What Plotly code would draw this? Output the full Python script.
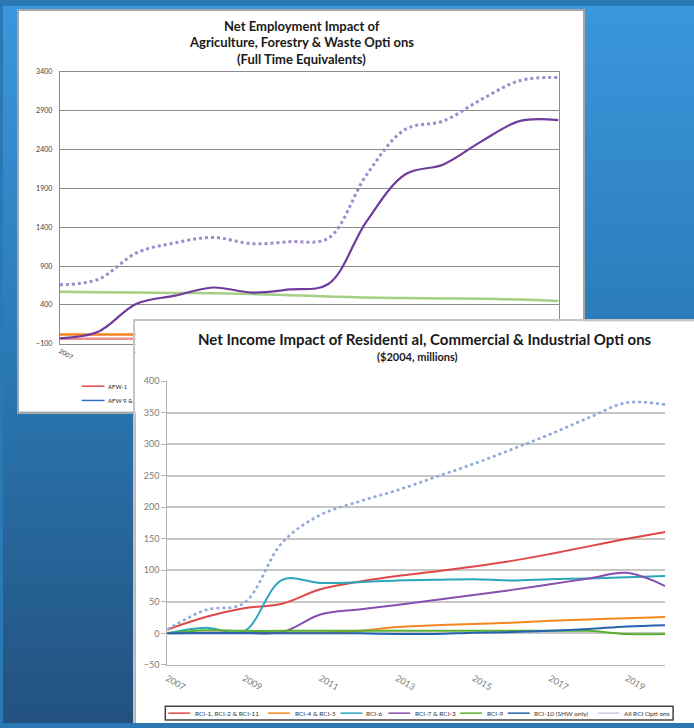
import plotly.graph_objects as go

W, H = 694, 728

# ---------------- data ----------------
years = [2007, 2008, 2009, 2010, 2011, 2012, 2013, 2014, 2015, 2016, 2017, 2018, 2019, 2020]
label_years = [2007, 2009, 2011, 2013, 2015, 2017, 2019]

# Back chart: Net Employment Impact (Full Time Equivalents)
afw_all = [660, 730, 1070, 1200, 1270, 1190, 1215, 1260, 2080, 2660, 2770, 3050, 3290, 3330]
afw_purple = [-30, 55, 415, 520, 625, 560, 600, 670, 1480, 2080, 2210, 2510, 2770, 2780]
afw_green = [570, 565, 560, 555, 550, 540, 525, 510, 495, 490, 485, 480, 470, 450]
afw_orange = [20, 20, 20, 20, 20, 20, 20, 20, 20, 20, 20, 20, 20, 20]
afw_1 = [-35, -35, -35, -35, -35, -35, -35, -35, -35, -35, -35, -35, -35, -35]
emp_ticks = [-100, 400, 900, 1400, 1900, 2400, 2900, 3400]

# Front chart: Net Income Impact ($2004, millions)
rci_1_2_11 = [6, 26, 40, 47, 70, 82, 91, 98, 106, 115, 126, 138, 150, 161]
rci_4_5 = [1, 1, 1, 1, 1, 4, 10, 13, 15, 17, 20, 22, 24, 26]
rci_6 = [0, 9, 3, 85, 80, 81, 84, 85, 86, 84, 86, 87, 89, 91]
rci_7_3 = [0, 1, 1, 2, 30, 38, 45, 53, 61, 69, 78, 87, 96, 75]
rci_9 = [0, 5, 4, 4, 4, 4, 4, 4, 4, 4, 4, 4, -1, -1]
rci_10 = [0, 0, 0, 0, 0, 0, -1, -1, 1, 2, 4, 7, 11, 13]
rci_all = [6, 37, 48, 144, 188, 209, 227, 248, 269, 292, 316, 342, 366, 363]

front_names = ["RCI-1, RCI-2 & RCI-11", "RCI-4 & RCI-5", "RCI-6", "RCI-7 & RCI-3",
               "RCI-9", "RCI-10 (SHW only)", "All RCI Opti ons"]
front_colors = ["#e04848", "#f5861f", "#2aa7bd", "#8650b0", "#58b030", "#2563b0", "#90a9d9"]
front_series = [rci_1_2_11, rci_4_5, rci_6, rci_7_3, rci_9, rci_10, rci_all]

FONT = "Lato"


def fx(px):
    return px / W


def fy(py):
    return 1 - py / H


fig = go.Figure()

# background gradient (subplot 1, full page)
fig.add_trace(go.Heatmap(x=[0, 1], y=[0, 0.5, 1], z=[[0, 0], [0.5, 0.5], [1, 1]],
                         colorscale=[[0, "#23517e"], [0.5, "#2a78b4"], [1, "#3a97dd"]],
                         zsmooth="best", showscale=False, hoverinfo="skip",
                         xaxis="x", yaxis="y"))

# back panel (subplot 2)
fig.add_trace(go.Scatter(x=[None], y=[None], xaxis="x2", yaxis="y2", showlegend=False,
                         hoverinfo="skip"))

# back chart (subplot 3)
fig.add_trace(go.Scatter(x=years, y=afw_green, mode="lines", name="AFW green",
                         line=dict(color="#a5cf85", width=2.5, shape="spline"),
                         xaxis="x3", yaxis="y3", showlegend=False))
fig.add_trace(go.Scatter(x=years, y=afw_orange, mode="lines", name="AFW orange",
                         line=dict(color="#f5821f", width=2.5, shape="spline"),
                         xaxis="x3", yaxis="y3", showlegend=False))
fig.add_trace(go.Scatter(x=years, y=afw_1, mode="lines", name="AFW-1",
                         line=dict(color="#e8918d", width=2.5, shape="spline"),
                         xaxis="x3", yaxis="y3", showlegend=False))
fig.add_trace(go.Scatter(x=years, y=afw_purple, mode="lines", name="AFW purple",
                         line=dict(color="#6f3c9c", width=2.2, shape="spline"),
                         xaxis="x3", yaxis="y3", showlegend=False))
fig.add_trace(go.Scatter(x=years, y=afw_all, mode="lines", name="All AFW",
                         line=dict(color="#a08acb", width=3, dash="dot", shape="spline"),
                         xaxis="x3", yaxis="y3", showlegend=False))

# front panel (subplot 4)
fig.add_trace(go.Scatter(x=[None], y=[None], xaxis="x4", yaxis="y4", showlegend=False,
                         hoverinfo="skip"))

# front chart (subplot 5)
for name, col, ser in zip(front_names, front_colors, front_series):
    dotted = name.startswith("All")
    fig.add_trace(go.Scatter(x=years, y=ser, mode="lines", name=name,
                             line=dict(color=col, width=2.6 if dotted else 2,
                                       dash="dot" if dotted else "solid",
                                       shape="spline"),
                             xaxis="x5", yaxis="y5", showlegend=False))

blank = dict(showgrid=False, zeroline=False, showticklabels=False, ticks="", fixedrange=True)

layout = dict(
    width=W, height=H, autosize=False,
    margin=dict(l=0, r=0, t=0, b=0),
    paper_bgcolor="#2a78b4", plot_bgcolor="white",
    font=dict(family=FONT),
    xaxis=dict(domain=[0, 1], range=[0, 1], visible=False, anchor="y"),
    yaxis=dict(domain=[0, 1], range=[0, 1], visible=False, anchor="x"),
    xaxis2=dict(domain=[fx(16), fx(583)], anchor="y2", range=[0, 1], showline=True,
                mirror=True, linecolor="#a6a6a6", linewidth=1.5, **blank),
    yaxis2=dict(domain=[fy(412), fy(5)], anchor="x2", range=[0, 1], showline=True,
                mirror=True, linecolor="#a6a6a6", linewidth=1.5, **blank),
    xaxis3=dict(domain=[fx(57), fx(558)], anchor="y3", range=[2007, 2020],
                tickvals=label_years, ticktext=[str(v) for v in label_years],
                tickangle=30, tickfont=dict(size=6.5, color="#404040"),
                showgrid=False, zeroline=False, showline=True, mirror=True,
                linecolor="#8c8c8c", linewidth=1, ticks=""),
    yaxis3=dict(domain=[fy(343), fy(67)], anchor="x3", range=[-100, 3400],
                tickvals=emp_ticks, tickfont=dict(size=7, color="#404040"),
                showgrid=True, gridcolor="#8c8c8c", gridwidth=1, zeroline=False,
                showline=True, mirror=True, linecolor="#8c8c8c", linewidth=1,
                ticks="outside", ticklen=5, tickcolor="#ffffff"),
    xaxis4=dict(domain=[fx(133), 1], anchor="y4", range=[0, 1], side="top", showline=True,
                linecolor="#c4c4c4", linewidth=1.5, **blank),
    yaxis4=dict(domain=[0, fy(320)], anchor="x4", range=[0, 1], showline=True,
                linecolor="#c4c4c4", linewidth=1.5, **blank),
    xaxis5=dict(domain=[fx(165), fx(665)], anchor="y5", range=[2007, 2020],
                tickvals=label_years, ticktext=[str(v) for v in label_years],
                tickangle=30, tickfont=dict(size=9, color="#7a7a7a"),
                showgrid=False, zeroline=False, showline=True,
                linecolor="#b4b4b4", linewidth=1, ticks="outside", ticklen=4,
                tickcolor="#ffffff"),
    yaxis5=dict(domain=[fy(669), fy(381)], anchor="x5", range=[-50, 400], dtick=50,
                tickfont=dict(size=9, color="#7a7a7a"),
                showgrid=True, gridcolor="#c6c6c6", gridwidth=2, zeroline=False,
                showline=True, linecolor="#b4b4b4", linewidth=1,
                ticks="outside", ticklen=5, tickcolor="#b4b4b4"),
)
fig.update_layout(**layout)

ann = []
# back chart titles
for txt, py in [("Net Employment Impact of", 20),
                ("Agriculture, Forestry & Waste Opti ons", 37),
                ("(Full Time Equivalents)", 54)]:
    ann.append(dict(text="<b>%s</b>" % txt, x=fx(300), y=fy(py), xref="paper", yref="paper",
                    showarrow=False, xanchor="center", yanchor="middle",
                    font=dict(size=13, color="#1a1a1a", family=FONT)))
# front chart titles
ann.append(dict(text="<b>Net Income Impact of Residenti al, Commercial & Industrial Opti ons</b>",
                x=fx(424), y=fy(338), xref="paper", yref="paper", showarrow=False,
                xanchor="center", yanchor="middle",
                font=dict(size=15, color="#1a1a1a", family=FONT)))
ann.append(dict(text="<b>($2004, millions)</b>", x=fx(416), y=fy(356), xref="paper",
                yref="paper", showarrow=False, xanchor="center", yanchor="middle",
                font=dict(size=11, color="#1a1a1a", family=FONT)))

shapes = []
# back chart legend (partially visible)
for txt, col, py in [("AFW-1", "#e04848", 386), ("AFW 9 &", "#2f6fc0", 400.5)]:
    shapes.append(dict(type="line", xref="paper", yref="paper", x0=fx(79), x1=fx(102),
                       y0=fy(py), y1=fy(py), line=dict(color=col, width=1.5), layer="above"))
    ann.append(dict(text=txt, x=fx(103), y=fy(py), xref="paper", yref="paper",
                    showarrow=False, xanchor="left", yanchor="middle",
                    font=dict(size=6, color="#222222", family=FONT)))

# front chart legend
shapes.append(dict(type="rect", xref="paper", yref="paper", x0=fx(163), x1=fx(673),
                   y0=fy(725), y1=fy(711), line=dict(color="#444444", width=1.5),
                   fillcolor="white", layer="above"))
leg_line_x = [166, 266, 339, 387, 459, 507, 597]
leg_text_x = [191, 291, 363, 412, 484, 531, 622]
ly = 718
for name, col, lx, tx in zip(front_names, front_colors, leg_line_x, leg_text_x):
    dotted = name.startswith("All")
    shapes.append(dict(type="line", xref="paper", yref="paper", x0=fx(lx), x1=fx(lx + 22),
                       y0=fy(ly), y1=fy(ly),
                       line=dict(color="#c5d0e6" if dotted else col, width=1.5),
                       layer="above"))
    ann.append(dict(text=name, x=fx(tx), y=fy(ly), xref="paper", yref="paper",
                    showarrow=False, xanchor="left", yanchor="middle",
                    font=dict(size=6.5, color="#333333", family=FONT)))

fig.update_layout(annotations=ann, shapes=shapes)

fig.write_html("out.html")
